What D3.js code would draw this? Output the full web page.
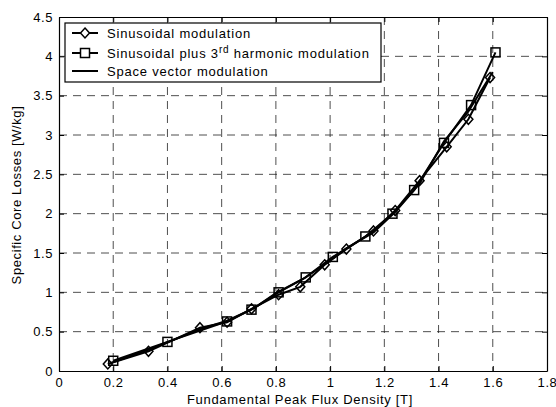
<!DOCTYPE html>
<html>
<head>
<meta charset="utf-8">
<script src="https://cdn.jsdelivr.net/npm/d3@7"></script>
<style>
  body { margin: 0; background: #fff; }
  svg text { font-family: "Liberation Sans", Arial, sans-serif; }
</style>
</head>
<body>
<div id="chart"></div>
<script>
// data
const sinX = [0.18, 0.33, 0.52, 0.62, 0.71, 0.81, 0.89, 0.98, 1.06, 1.16, 1.24, 1.33, 1.43, 1.51, 1.59]
const sinY = [0.09, 0.25, 0.55, 0.62, 0.79, 0.97, 1.07, 1.35, 1.55, 1.78, 2.04, 2.42, 2.85, 3.20, 3.73]

const thirdX = [0.20, 0.40, 0.62, 0.71, 0.81, 0.91, 1.01, 1.13, 1.23, 1.31, 1.42, 1.52, 1.61]
const thirdY = [0.13, 0.37, 0.63, 0.78, 1.00, 1.19, 1.45, 1.71, 2.00, 2.30, 2.90, 3.38, 4.05]

const svmX = [0.19, 0.33, 0.52, 0.62, 0.72, 0.80, 0.90, 0.99, 1.06, 1.16, 1.24, 1.33, 1.42, 1.51, 1.60]
const svmY = [0.10, 0.27, 0.53, 0.64, 0.80, 0.99, 1.17, 1.38, 1.56, 1.76, 2.02, 2.38, 2.92, 3.30, 3.80]

const xTicks = [0, 0.2, 0.4, 0.6, 0.8, 1, 1.2, 1.4, 1.6, 1.8]
const yTicks = [0, 0.5, 1, 1.5, 2, 2.5, 3, 3.5, 4, 4.5]

const W = 556, H = 407
const MARGIN = { TOP: 17, BOTTOM: 36, LEFT: 59, RIGHT: 9 }
const PW = W - MARGIN.LEFT - MARGIN.RIGHT
const PH = H - MARGIN.TOP - MARGIN.BOTTOM

const svg = d3.select("#chart").append("svg")
    .attr("width", W).attr("height", H)

const g = svg.append("g")
    .attr("transform", "translate(" + MARGIN.LEFT + "," + MARGIN.TOP + ")")

const x = d3.scaleLinear().domain([0, 1.8]).range([0, PW])
const y = d3.scaleLinear().domain([0, 4.5]).range([PH, 0])

// dashed grid
g.append("g").selectAll("line")
    .data(xTicks.slice(1, -1))
    .join("line")
    .attr("x1", d => x(d)).attr("x2", d => x(d))
    .attr("y1", 0).attr("y2", PH)
    .attr("stroke", "#222").attr("stroke-width", 0.8)
    .attr("stroke-dasharray", "8,6")

g.append("g").selectAll("line")
    .data(yTicks.slice(1, -1))
    .join("line")
    .attr("x1", 0).attr("x2", PW)
    .attr("y1", d => y(d)).attr("y2", d => y(d))
    .attr("stroke", "#222").attr("stroke-width", 0.8)
    .attr("stroke-dasharray", "8,6")

// axes with inward ticks, matlab style box
const fmt = d => String(d)
g.append("g").attr("transform", "translate(0," + PH + ")")
    .call(d3.axisBottom(x).tickValues(xTicks).tickFormat(fmt).tickSizeInner(-5).tickSizeOuter(0).tickPadding(7))
g.append("g")
    .call(d3.axisLeft(y).tickValues(yTicks).tickFormat(fmt).tickSizeInner(-5).tickSizeOuter(0).tickPadding(6))
g.append("g")
    .call(d3.axisTop(x).tickValues(xTicks).tickFormat("").tickSizeInner(-5).tickSizeOuter(0))
g.append("g").attr("transform", "translate(" + PW + ",0)")
    .call(d3.axisRight(y).tickValues(yTicks).tickFormat("").tickSizeInner(-5).tickSizeOuter(0))

g.selectAll(".domain").attr("stroke", "#000").attr("stroke-width", 1.2)
g.selectAll(".tick line").attr("stroke", "#000")
g.selectAll(".tick text").attr("font-size", 13).attr("fill", "#000")
    .attr("letter-spacing", 0.6)
    .attr("font-family", "Liberation Sans, Arial, sans-serif")

// axis labels
svg.append("text")
    .attr("x", 300)
    .attr("y", H - 3)
    .attr("text-anchor", "middle")
    .attr("font-size", 13)
    .attr("letter-spacing", 0.7)
    .text("Fundamental Peak Flux Density [T]")

svg.append("text")
    .attr("transform", "translate(21," + 195 + ") rotate(-90)")
    .attr("text-anchor", "middle")
    .attr("font-size", 13)
    .attr("letter-spacing", 0.6)
    .text("Specific Core Losses [W/kg]")

// series
const line = d3.line().x(d => x(d[0])).y(d => y(d[1]))
const sinData = d3.zip(sinX, sinY)
const thirdData = d3.zip(thirdX, thirdY)
const svmData = d3.zip(svmX, svmY)

const diamond = (s) => "M0," + (-s) + "L" + (s - 0.5) + ",0L0," + s + "L" + (-(s - 0.5)) + ",0Z"

g.append("path").datum(svmData)
    .attr("d", line).attr("fill", "none").attr("stroke", "#000").attr("stroke-width", 2)
g.append("path").datum(sinData)
    .attr("d", line).attr("fill", "none").attr("stroke", "#000").attr("stroke-width", 2)
g.append("path").datum(thirdData)
    .attr("d", line).attr("fill", "none").attr("stroke", "#000").attr("stroke-width", 2)

g.append("g").selectAll("path")
    .data(sinData)
    .join("path")
    .attr("transform", d => "translate(" + x(d[0]) + "," + y(d[1]) + ")")
    .attr("d", diamond(5))
    .attr("fill", "none").attr("stroke", "#000").attr("stroke-width", 1.5)

g.append("g").selectAll("rect")
    .data(thirdData)
    .join("rect")
    .attr("x", d => x(d[0]) - 4.5).attr("y", d => y(d[1]) - 4.5)
    .attr("width", 9).attr("height", 9)
    .attr("fill", "none").attr("stroke", "#000").attr("stroke-width", 1.5)

// legend
const leg = svg.append("g").attr("transform", "translate(65,23)")
leg.append("rect").attr("width", 316).attr("height", 59)
    .attr("fill", "#fff").attr("stroke", "#000").attr("stroke-width", 1.2)

const rows = [10, 30, 48]
rows.forEach(r => {
    leg.append("line").attr("x1", 7).attr("x2", 33).attr("y1", r).attr("y2", r)
        .attr("stroke", "#000").attr("stroke-width", 2)
})
leg.append("path").attr("transform", "translate(20," + rows[0] + ")")
    .attr("d", diamond(5)).attr("fill", "#fff").attr("stroke", "#000").attr("stroke-width", 1.5)
leg.append("rect").attr("x", 15.5).attr("y", rows[1] - 4.5).attr("width", 9).attr("height", 9)
    .attr("fill", "#fff").attr("stroke", "#000").attr("stroke-width", 1.5)

const legText = (r) => leg.append("text").attr("x", 42).attr("y", r + 5)
    .attr("font-size", 13).attr("letter-spacing", 0.8)
legText(rows[0]).text("Sinusoidal modulation")
const t2 = legText(rows[1])
t2.append("tspan").text("Sinusoidal plus 3")
t2.append("tspan").attr("dy", -5).attr("font-size", 10).text("rd")
t2.append("tspan").attr("dy", 5).text(" harmonic modulation")
legText(rows[2]).text("Space vector modulation")
</script>
</body>
</html>
